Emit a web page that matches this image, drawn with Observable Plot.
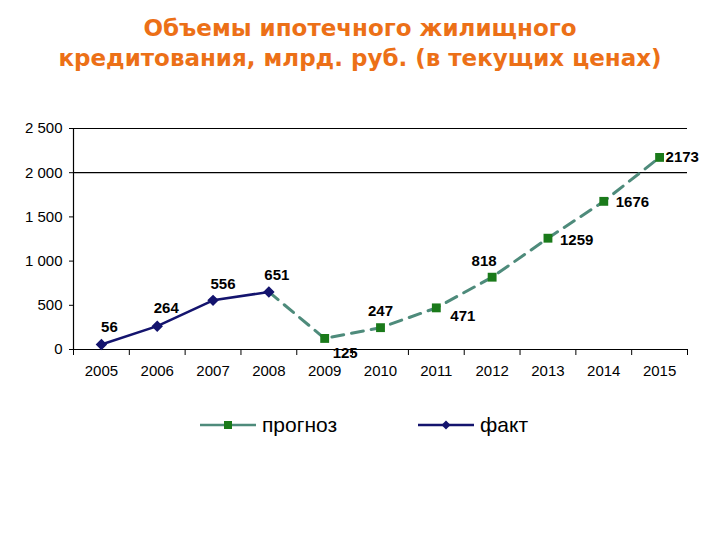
<!DOCTYPE html>
<html>
<head>
<meta charset="utf-8">
<script src="https://cdn.jsdelivr.net/npm/d3@7"></script>
<script src="https://cdn.jsdelivr.net/npm/@observablehq/plot@0.6"></script>
<style>
  html, body { margin: 0; padding: 0; background: #fff; }
  #wrap { position: relative; width: 720px; height: 540px; font-family: "Liberation Sans", Arial, sans-serif; }
  #title { position: absolute; top: 13px; left: 0; width: 720px; text-align: center; color: #EC7017; font-family: "DejaVu Sans", Verdana, sans-serif; font-weight: bold; font-size: 23px; line-height: 30px; }
  #chart { position: absolute; top: 90px; left: 0; }
  #legend { position: absolute; top: 411px; left: 0; width: 720px; height: 28px; font-size: 21px; color: #000; }
  .item { position: absolute; top: 0; display: flex; align-items: center; height: 28px; }
</style>
</head>
<body>
<div id="wrap">
  <div id="title">Объемы ипотечного жилищного<br>кредитования, млрд. руб. (в текущих ценах)</div>
  <div id="chart"></div>
  <div id="legend"></div>
</div>
<script>
const years = [2005, 2006, 2007, 2008, 2009, 2010, 2011, 2012, 2013, 2014, 2015];
const factYears = [2005, 2006, 2007, 2008];
const factValues = [56, 264, 556, 651];
const forecastYears = [2008, 2009, 2010, 2011, 2012, 2013, 2014, 2015];
const forecastValues = [651, 125, 247, 471, 818, 1259, 1676, 2173];
const yTicks = [0, 500, 1000, 1500, 2000, 2500];
const gridValues = [2000, 2500];
const seriesNames = ["прогноз", "факт"];

const factColor = "#14146E";
const forecastLine = "#4E8B7B";
const forecastMarker = "#1A7A1A";

const fact = factYears.map((year, i) => ({year, value: factValues[i]}));
const forecast = forecastYears.map((year, i) => ({year, value: forecastValues[i]}));
// forecast markers (2008 is drawn by the fact series)
const forecastPts = forecast.filter(d => !factYears.includes(d.year));
const labels = [...fact, ...forecastPts];

// label placement (pixel offsets from the point), by year
const placement = {
  2005: {dx: 8, dy: -17, a: "middle"},
  2006: {dx: 9, dy: -18, a: "middle"},
  2007: {dx: 10, dy: -16, a: "middle"},
  2008: {dx: 8, dy: -17, a: "middle"},
  2009: {dx: 8, dy: 15, a: "start"},
  2010: {dx: 0, dy: -16, a: "middle"},
  2011: {dx: 14, dy: 8, a: "start"},
  2012: {dx: -8, dy: -16, a: "middle"},
  2013: {dx: 12, dy: 2, a: "start"},
  2014: {dx: 12, dy: 1, a: "start"},
  2015: {dx: 6, dy: 0, a: "start"}
};
const labelMarks = Object.keys(placement).map(k => {
  const p = placement[k];
  return Plot.text(labels.filter(d => d.year === +k), {
    x: "year", y: "value", text: d => String(d.value),
    dx: p.dx, dy: p.dy, textAnchor: p.a,
    fontSize: 15, fontWeight: "bold", fill: "#000"
  });
});

const fmt = v => d3.format(",")(v).replace(/,/g, "\u00a0");
const boundaries = years.map(y => y - 0.5).concat([years[years.length - 1] + 0.5]);

const plot = Plot.plot({
  width: 720,
  height: 300,
  marginLeft: 73,
  marginRight: 33,
  marginTop: 38,
  marginBottom: 41,
  style: {fontFamily: "Liberation Sans, Arial, sans-serif", fontSize: "15px", color: "#000", background: "transparent"},
  x: {domain: [years[0] - 0.5, years[years.length - 1] + 0.5], label: null},
  y: {domain: [0, 2500], label: null},
  marks: [
    Plot.ruleY(gridValues, {stroke: "#000", strokeWidth: 1.2}),
    Plot.ruleY([0], {stroke: "#000", strokeWidth: 1.2}),
    Plot.ruleX([years[0] - 0.5], {y1: 0, y2: 2500, stroke: "#000", strokeWidth: 1.2}),
    Plot.axisY({ticks: yTicks, tickFormat: fmt, tickSize: 4, tickPadding: 7, fontSize: 15, stroke: "#000", strokeOpacity: 1}),
    Plot.axisX({ticks: years, tickFormat: d => String(d), tickSize: 0, tickPadding: 16, fontSize: 15}),
    Plot.axisX({ticks: boundaries, tickFormat: () => "", tickSize: 6, stroke: "#000", strokeOpacity: 1}),
    Plot.line(forecast, {x: "year", y: "value", stroke: forecastLine, strokeWidth: 3, strokeDasharray: "12,8"}),
    Plot.line(fact, {x: "year", y: "value", stroke: factColor, strokeWidth: 2.5}),
    Plot.dot(forecastPts, {x: "year", y: "value", symbol: "square", r: 5, fill: forecastMarker, stroke: "none"}),
    Plot.dot(fact, {x: "year", y: "value", symbol: "diamond2", r: 4.2, fill: factColor, stroke: factColor}),
    ...labelMarks
  ]
});
document.getElementById("chart").appendChild(plot);

// legend
const legend = document.getElementById("legend");
const legendItems = [
  {name: seriesNames[0], left: 200, line: forecastLine, marker: forecastMarker, shape: "square"},
  {name: seriesNames[1], left: 418, line: factColor, marker: factColor, shape: "diamond"}
];
legendItems.forEach(it => {
  const div = document.createElement("div");
  div.className = "item";
  div.style.left = it.left + "px";
  const sw = 56;
  const marker = it.shape === "square"
    ? `<rect x="${sw/2 - 4}" y="10" width="8" height="8" fill="${it.marker}"/>`
    : `<path d="M${sw/2},9.5 L${sw/2 + 4.5},14 L${sw/2},18.5 L${sw/2 - 4.5},14 Z" fill="${it.marker}"/>`;
  div.innerHTML = `<svg width="${sw}" height="28"><line x1="0" x2="${sw}" y1="14" y2="14" stroke="${it.line}" stroke-width="2.5"/>${marker}</svg><span style="margin-left:6px">${it.name}</span>`;
  legend.appendChild(div);
});
</script>
</body>
</html>
